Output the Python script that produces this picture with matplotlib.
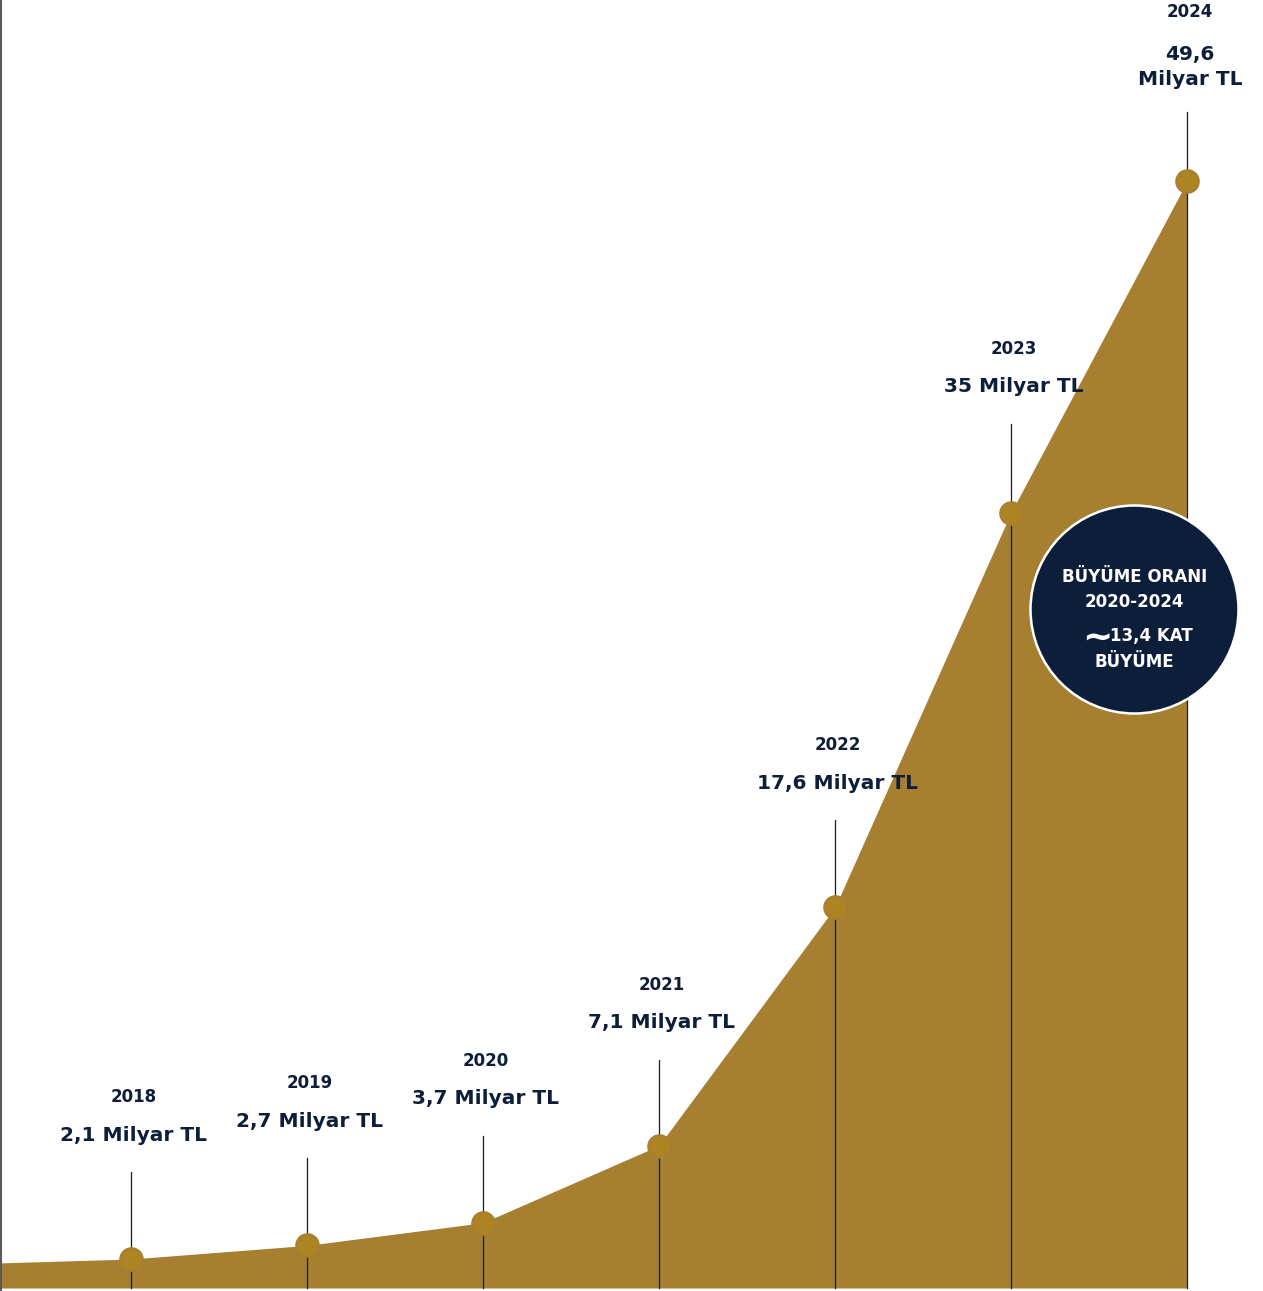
import matplotlib.pyplot as plt
import numpy as np

# colours / layout
GOLD = "#A67F31"
DOT = "#AE8323"
NAVY = "#0C1E39"
W, H = 1263, 1291
plt.rcParams['font.family'] = ['DejaVu Sans']

######### DATA #########

years = [2018, 2019, 2020, 2021, 2022, 2023, 2024]
values = [2.1, 2.7, 3.7, 7.1, 17.6, 35, 49.6]
value_labels = ["2,1 Milyar TL", "2,7 Milyar TL", "3,7 Milyar TL",
                "7,1 Milyar TL", "17,6 Milyar TL", "35 Milyar TL",
                "49,6\nMilyar TL"]
# the area runs in from the left, out of frame
lead_year, lead_value = 2017, 1.87

badge_title = "BÜYÜME ORANI\n2020-2024"
badge_value = "13,4 KAT"
badge_sub = "BÜYÜME"

######### FIGURE #########

fig = plt.figure(figsize=(W / 100, H / 100), dpi=100)
ax = fig.add_axes([0, 0, 1, 1])
ymin, ymax = 0.69, 57.6
ax.set_xlim(2017.256, 2024.432)
ax.set_ylim(ymin, ymax)
px = (ymax - ymin) / H   # data units per pixel (vertical)
base = ymin + 3 * px

xs = [lead_year] + years
ys = [lead_value] + values
ax.fill_between(xs, ys, base, color=GOLD, lw=0, zorder=1)

# stems
stem = [87, 87, 87, 86, 87, 89, 69]
for x, y, s in zip(years, values, stem):
    ax.plot([x, x], [base, y + s * px], color=NAVY, lw=0.9, zorder=2)

ax.plot(years, values, 'o', ls='none', ms=16.5, mfc=DOT, mec=GOLD,
        mew=1.2, zorder=3)

# labels
for x, y, s, lab in zip(years, values, stem, value_labels):
    top = s
    if "\n" in lab:
        vy, yy = top + 45, top + 45 + 55
    else:
        vy, yy = top + 37, top + 37 + 38
    ax.annotate(lab, (x, y), xytext=(3, vy), textcoords='offset pixels',
                ha='center', va='center', fontsize=14.5, fontweight='bold',
                color=NAVY, linespacing=1.4)
    ax.annotate(str(x), (x, y), xytext=(3, yy), textcoords='offset pixels',
                ha='center', va='center', fontsize=12, fontweight='bold',
                color=NAVY)

# growth badge
bx, by = 2023.70, 30.75
ax.scatter([bx], [by], s=(208 * 0.72) ** 2, color="#0C1E3A",
           edgecolors='white', linewidths=1.8, zorder=5)
ax.annotate(badge_title, (bx, by), xytext=(0, 20), textcoords='offset pixels',
            ha='center', va='center', fontsize=12, fontweight='bold',
            color='white', linespacing=1.5, zorder=6)
ax.annotate(badge_value, (bx, by), xytext=(17, -27), textcoords='offset pixels',
            ha='center', va='center', fontsize=12, fontweight='bold',
            color='white', zorder=6)
ax.annotate("~", (bx, by), xytext=(-37, -30), textcoords='offset pixels',
            ha='center', va='center', fontsize=26, fontweight='bold',
            color='white', zorder=6)
ax.annotate(badge_sub, (bx, by), xytext=(0, -53), textcoords='offset pixels',
            ha='center', va='center', fontsize=12, fontweight='bold',
            color='white', zorder=6)

for sp in ['top', 'right', 'bottom']:
    ax.spines[sp].set_visible(False)
ax.spines['left'].set_color('#5a5a5a')
ax.spines['left'].set_linewidth(2.2)
ax.set_xticks([])
ax.set_yticks([])

fig.savefig("out.png", dpi=100)
